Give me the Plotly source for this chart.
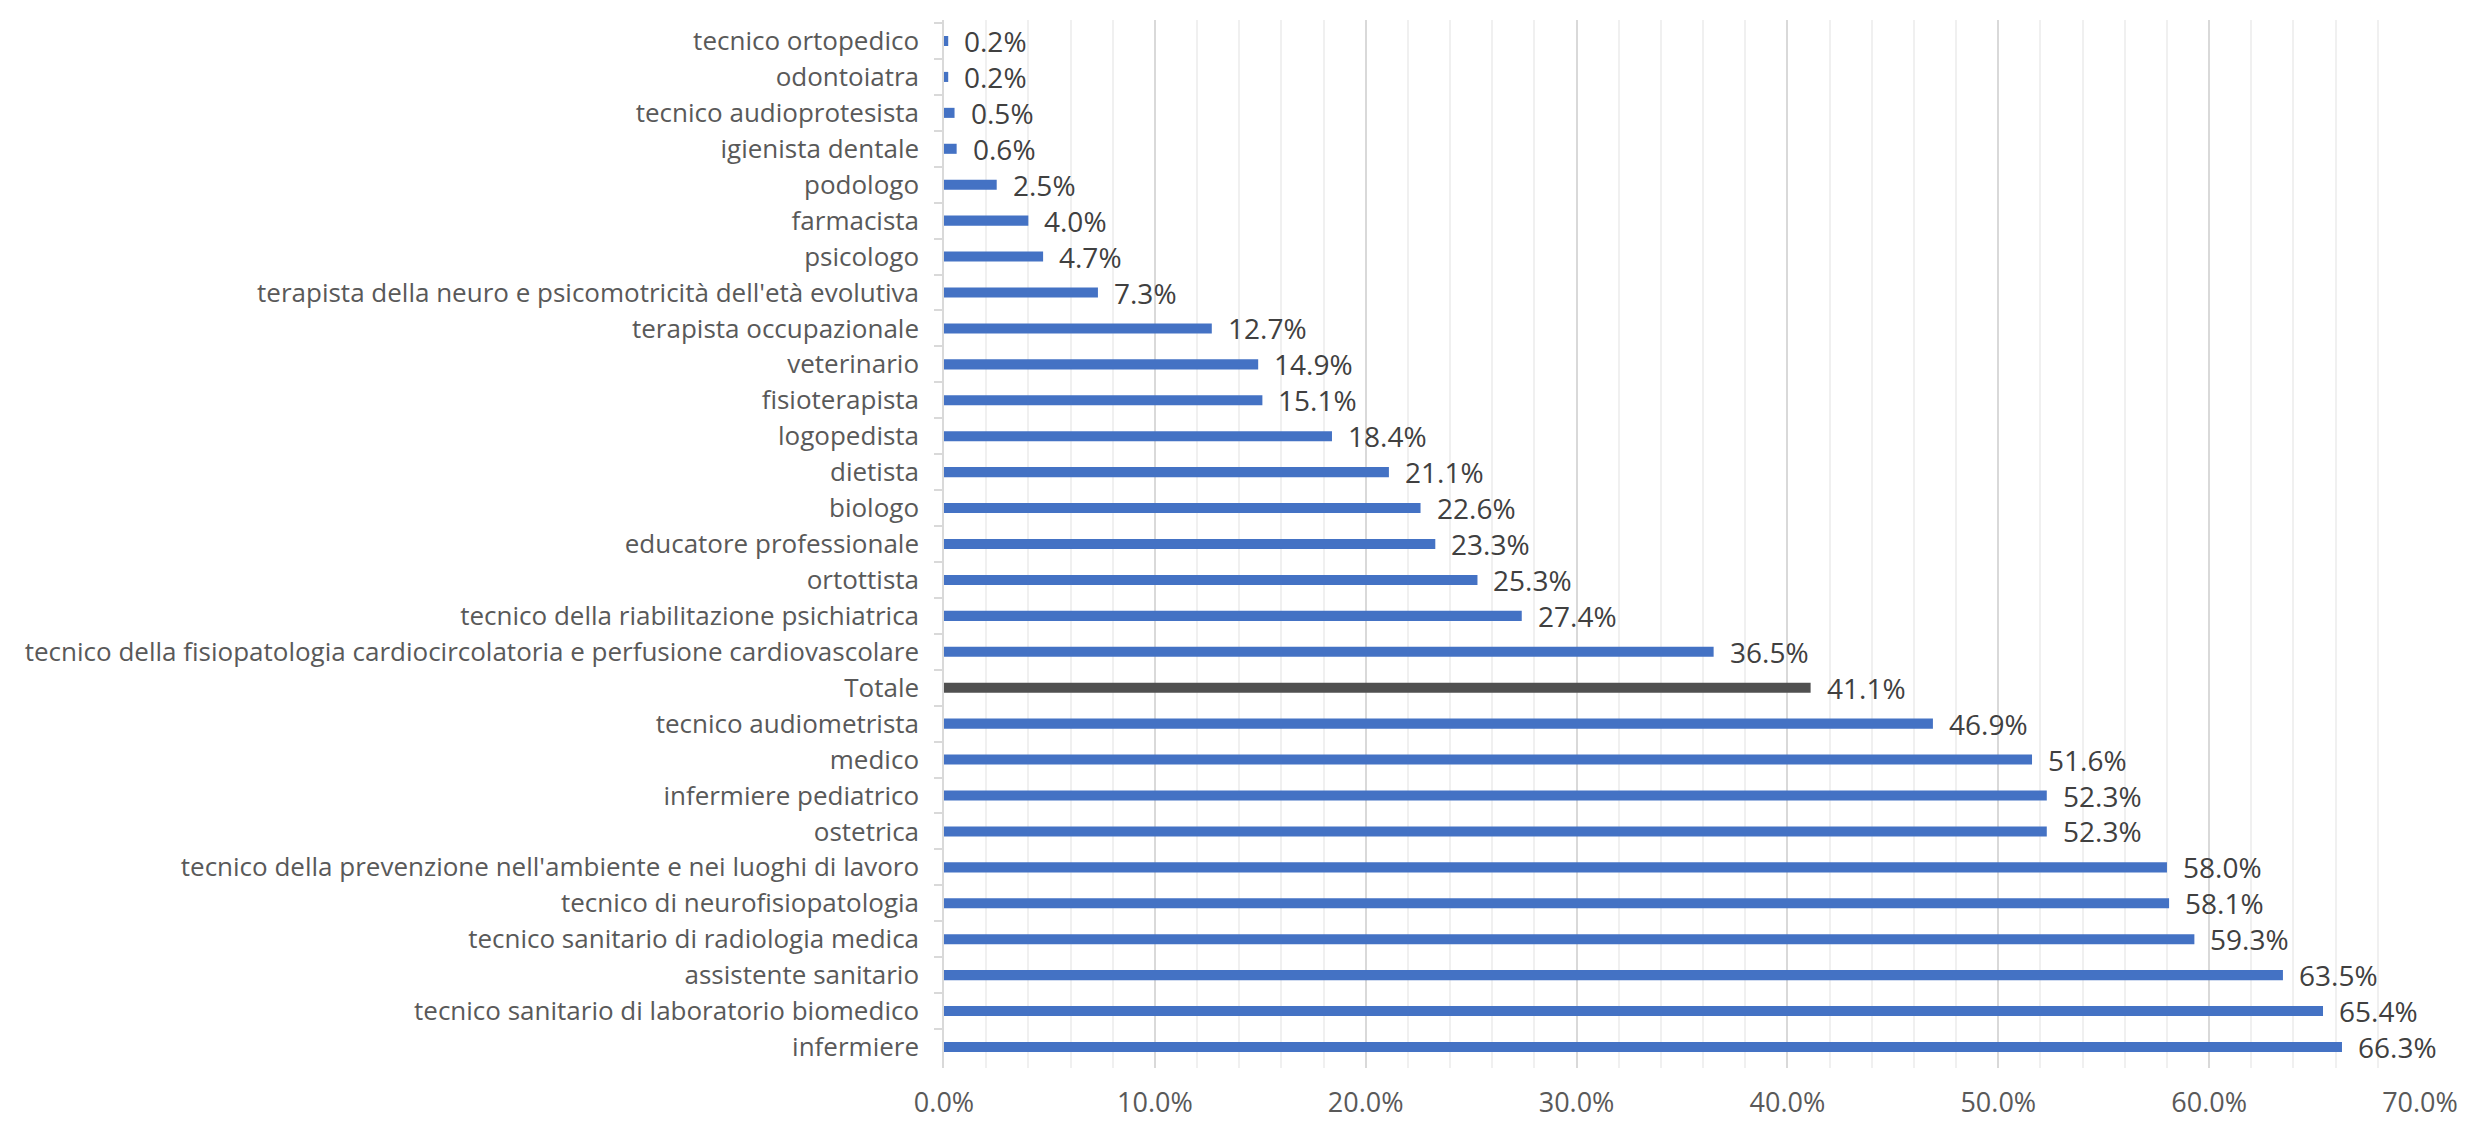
import plotly.graph_objects as go

# Professions, listed top to bottom, with their percentage values
categories = [
    "tecnico ortopedico",
    "odontoiatra",
    "tecnico audioprotesista",
    "igienista dentale",
    "podologo",
    "farmacista",
    "psicologo",
    "terapista della neuro e psicomotricità dell'età evolutiva",
    "terapista occupazionale",
    "veterinario",
    "fisioterapista",
    "logopedista",
    "dietista",
    "biologo",
    "educatore professionale",
    "ortottista",
    "tecnico della riabilitazione psichiatrica",
    "tecnico della fisiopatologia cardiocircolatoria e perfusione cardiovascolare",
    "Totale",
    "tecnico audiometrista",
    "medico",
    "infermiere pediatrico",
    "ostetrica",
    "tecnico della prevenzione nell'ambiente e nei luoghi di lavoro",
    "tecnico di neurofisiopatologia",
    "tecnico sanitario di radiologia medica",
    "assistente sanitario",
    "tecnico sanitario di laboratorio biomedico",
    "infermiere",
]
values = [
    0.2, 0.2, 0.5, 0.6, 2.5, 4.0, 4.7, 7.3, 12.7, 14.9, 15.1, 18.4, 21.1, 22.6,
    23.3, 25.3, 27.4, 36.5, 41.1, 46.9, 51.6, 52.3, 52.3, 58.0, 58.1, 59.3,
    63.5, 65.4, 66.3,
]

total_label = "Totale"
bar_colors = ["#505050" if c == total_label else "#4472C4" for c in categories]

fig = go.Figure()
fig.add_trace(go.Bar(
    x=values,
    y=categories,
    orientation="h",
    marker=dict(color=bar_colors, line=dict(width=0)),
    hoverinfo="skip",
))

# Value labels to the right of each bar
for c, v in zip(categories, values):
    fig.add_annotation(
        x=v, y=c, text=f"{v:.1f}%", showarrow=False,
        xanchor="left", yanchor="middle", xshift=14,
        font=dict(family="Open Sans", size=28, color="#404040"),
    )

fig.update_layout(
    width=2469,
    height=1125,
    margin=dict(l=944, r=49, t=20, b=57, autoexpand=False),
    paper_bgcolor="white",
    plot_bgcolor="white",
    bargap=0.72,
    showlegend=False,
    font=dict(family="Open Sans", color="#595959"),
)

fig.update_xaxes(
    range=[0, 70],
    dtick=10,
    tick0=0,
    tickformat=".1f",
    ticksuffix="%",
    showgrid=True,
    gridcolor="#D9D9D9",
    gridwidth=1.5,
    zeroline=False,
    showline=False,
    ticks="",
    ticklabelstandoff=16,
    tickfont=dict(family="Open Sans", size=27, color="#595959"),
    minor=dict(dtick=2, tick0=0, showgrid=True, gridcolor="#F0F0F0", gridwidth=1.5),
)

fig.update_yaxes(
    autorange="reversed",
    showline=True,
    linecolor="#D9D9D9",
    linewidth=1.5,
    ticks="outside",
    tickson="boundaries",
    ticklen=8,
    tickcolor="#D9D9D9",
    tickwidth=1.5,
    showgrid=False,
    ticklabelstandoff=18,
    tickfont=dict(family="Open Sans", size=26, color="#595959"),
)

fig.write_html("out.html")
